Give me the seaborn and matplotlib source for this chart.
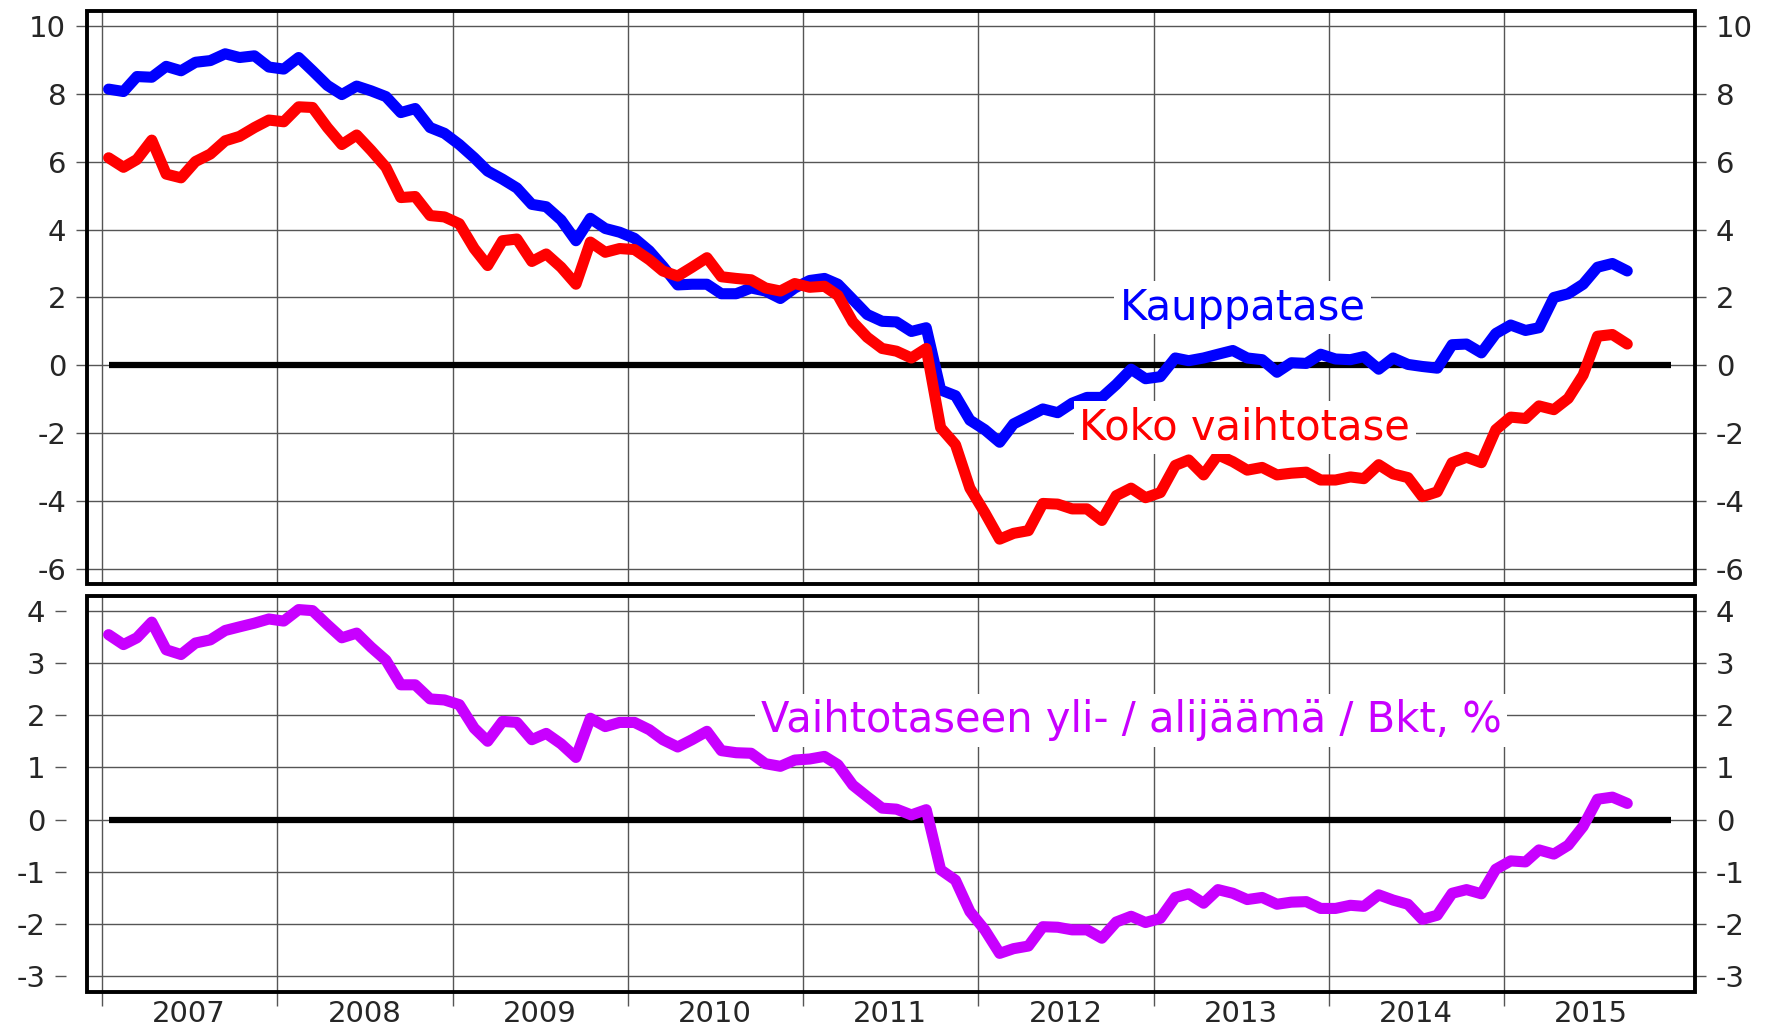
import numpy as np
import pandas as pd
import seaborn as sns
import matplotlib
matplotlib.use('Agg')
import matplotlib.pyplot as plt
from matplotlib.patches import Rectangle

# kuukausiarvot, tammikuu 2007 - syyskuu 2015
kauppatase = [8.13, 8.06, 8.5, 8.48, 8.8, 8.67, 8.92, 8.97, 9.17, 9.06, 9.11, 8.78,
              8.72, 9.06, 8.67, 8.24, 7.97, 8.22, 8.08, 7.91, 7.44, 7.56, 7.0, 6.83,
              6.5, 6.11, 5.72, 5.48, 5.22, 4.74, 4.67, 4.28, 3.67, 4.33, 4.03, 3.92,
              3.74, 3.37, 2.92, 2.37, 2.39, 2.39, 2.11, 2.11, 2.28, 2.19, 1.97, 2.28,
              2.5, 2.56, 2.39, 1.94, 1.5, 1.3, 1.28, 1.0, 1.11, -0.72, -0.89, -1.61,
              -1.89, -2.26, -1.72, -1.5, -1.28, -1.39, -1.11, -0.94, -0.94, -0.56, -0.11, -0.39,
              -0.33, 0.22, 0.14, 0.22, 0.33, 0.44, 0.22, 0.17, -0.2, 0.08, 0.06, 0.33,
              0.19, 0.17, 0.26, -0.11, 0.22, 0.03, -0.03, -0.08, 0.61, 0.63, 0.37, 0.94,
              1.19, 1.03, 1.11, 2.0, 2.11, 2.39, 2.89, 3.0, 2.78]
vaihtotase = [6.11, 5.83, 6.06, 6.63, 5.63, 5.52, 6.0, 6.22, 6.61, 6.74, 7.0, 7.22,
              7.17, 7.61, 7.59, 7.0, 6.5, 6.78, 6.33, 5.83, 4.94, 4.97, 4.41, 4.37,
              4.17, 3.44, 2.94, 3.67, 3.72, 3.06, 3.28, 2.89, 2.39, 3.63, 3.33, 3.44,
              3.41, 3.11, 2.78, 2.63, 2.89, 3.17, 2.61, 2.56, 2.52, 2.28, 2.19, 2.41,
              2.3, 2.33, 2.06, 1.28, 0.83, 0.5, 0.42, 0.22, 0.5, -1.83, -2.33, -3.61,
              -4.33, -5.11, -4.94, -4.86, -4.06, -4.08, -4.22, -4.22, -4.56, -3.83, -3.61, -3.89,
              -3.74, -2.94, -2.78, -3.22, -2.63, -2.83, -3.08, -3.0, -3.22, -3.17, -3.14, -3.37,
              -3.37, -3.28, -3.33, -2.92, -3.19, -3.3, -3.86, -3.72, -2.86, -2.7, -2.86, -1.89,
              -1.52, -1.56, -1.19, -1.3, -0.97, -0.28, 0.86, 0.91, 0.63]
vaihtotase_bkt = [3.54, 3.35, 3.48, 3.78, 3.25, 3.16, 3.38, 3.44, 3.62, 3.69, 3.76, 3.84,
                  3.8, 4.02, 4.0, 3.73, 3.48, 3.57, 3.3, 3.05, 2.58, 2.58, 2.31, 2.29,
                  2.2, 1.75, 1.5, 1.88, 1.86, 1.53, 1.65, 1.45, 1.19, 1.94, 1.78, 1.86,
                  1.86, 1.72, 1.53, 1.39, 1.53, 1.69, 1.32, 1.28, 1.27, 1.07, 1.02, 1.14,
                  1.16, 1.21, 1.05, 0.66, 0.44, 0.22, 0.2, 0.09, 0.19, -0.96, -1.16, -1.76,
                  -2.11, -2.56, -2.47, -2.42, -2.05, -2.06, -2.11, -2.11, -2.27, -1.96, -1.85, -1.97,
                  -1.89, -1.49, -1.42, -1.6, -1.34, -1.41, -1.53, -1.49, -1.62, -1.58, -1.57, -1.7,
                  -1.7, -1.64, -1.66, -1.44, -1.54, -1.62, -1.91, -1.83, -1.41, -1.34, -1.42, -0.95,
                  -0.79, -0.81, -0.58, -0.66, -0.49, -0.13, 0.39, 0.43, 0.31]

years = list(range(2007, 2016))
top_yticks = list(range(-6, 11, 2))
bottom_yticks = list(range(-3, 5))

months = pd.date_range('2007-01-01', periods=len(kauppatase), freq='MS') + pd.Timedelta(days=14)
df = pd.DataFrame({'kk': months, 'Kauppatase': kauppatase,
                   'Koko vaihtotase': vaihtotase, 'Bkt': vaihtotase_bkt})

zero_start = months[0]
zero_end = pd.Timestamp('2015-12-15')
xmin = pd.Timestamp('2006-12-01')
xmax = pd.Timestamp('2016-02-03')

sns.set_style('white')
plt.rcParams['font.family'] = ['DejaVu Sans']
plt.rcParams['axes.unicode_minus'] = False

fig = plt.figure(figsize=(17.72, 10.34), dpi=100)
ax1 = fig.add_axes([0.0491, 0.4352, 0.9074, 0.5542])
ax2 = fig.add_axes([0.0491, 0.0406, 0.9074, 0.3830])

year_starts = [pd.Timestamp(f'{y}-01-01') for y in years]
year_mids = [pd.Timestamp(f'{y}-07-02') for y in years]

for ax in (ax1, ax2):
    ax.set_xlim(xmin, xmax)
    ax.set_xticks(year_starts)
    ax.grid(True, which='major', color='#555555', lw=1.0)
    ax.hlines(0, zero_start, zero_end, color='black', lw=4.5, zorder=3)
    for s in ax.spines.values():
        s.set_visible(False)
    ax.add_patch(Rectangle((0, 0), 1, 1, transform=ax.transAxes, fill=False,
                           edgecolor='black', lw=2.8, clip_on=False, zorder=10))
    ax.tick_params(axis='y', which='both', direction='out', length=8, width=1,
                   color='#555555', labelsize=21, left=True, right=True,
                   labelleft=True, labelright=True, pad=7)

sns.lineplot(data=df, x='kk', y='Kauppatase', ax=ax1, color='#0000ff', lw=8, zorder=4)
sns.lineplot(data=df, x='kk', y='Koko vaihtotase', ax=ax1, color='#ff0000', lw=8, zorder=4)
sns.lineplot(data=df, x='kk', y='Bkt', ax=ax2, color='#c800ff', lw=8, zorder=4)

ax1.set_ylim(-6.43, 10.43)
ax1.set_yticks(top_yticks)
ax1.tick_params(axis='x', length=0, labelbottom=False)

ax2.set_ylim(-3.30, 4.28)
ax2.set_yticks(bottom_yticks)
ax2.spines['left'].set_position(('outward', 15))
ax2.tick_params(axis='x', which='major', direction='out', length=10, width=1,
                color='#555555', bottom=True, labelbottom=False)
ax2.set_xticks(year_mids, minor=True)
ax2.set_xticklabels([str(y) for y in years], minor=True)
ax2.tick_params(axis='x', which='minor', bottom=True, length=0, labelsize=21, pad=6)

for ax in (ax1, ax2):
    ax.set_xlabel('')
    ax.set_ylabel('')

box = dict(facecolor='white', edgecolor='none', pad=4)
ax1.text(pd.Timestamp('2013-07-05'), 1.7, 'Kauppatase', color='#0000ff', fontsize=30,
         ha='center', va='center', bbox=box, zorder=6)
ax1.text(pd.Timestamp('2013-07-10'), -1.83, 'Koko vaihtotase', color='#ff0000', fontsize=30,
         ha='center', va='center', bbox=box, zorder=6)
ax2.text(pd.Timestamp('2012-11-15'), 1.9, 'Vaihtotaseen yli- / alijäämä / Bkt, %',
         color='#c800ff', fontsize=30, ha='center', va='center', bbox=box, zorder=6)

fig.savefig('out.png', dpi=100)
